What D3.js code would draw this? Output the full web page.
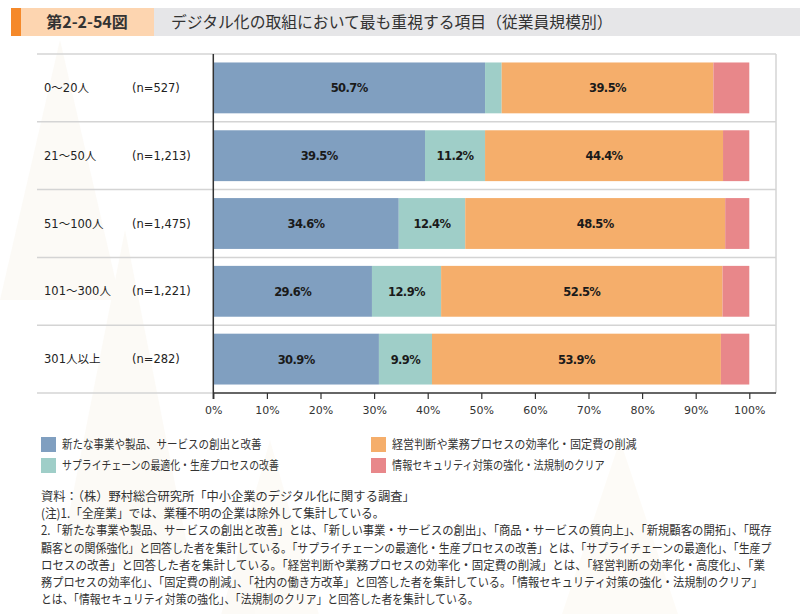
<!DOCTYPE html>
<html><head><meta charset="utf-8">
<script src="https://cdn.jsdelivr.net/npm/d3@7"></script>
<style>
html,body{margin:0;padding:0;background:#fff;}
text{font-family:"DejaVu Sans","Noto Sans CJK JP",sans-serif;}
.jp{font-family:"Noto Sans CJK JP","Noto Sans",sans-serif;}
</style></head>
<body><div id="chart"></div>
<script>
const categories = ["0～20人","21～50人","51～100人","101～300人","301人以上"];
const sampleSizes = ["(n=527)","(n=1,213)","(n=1,475)","(n=1,221)","(n=282)"];
const seriesNames = ["新たな事業や製品、サービスの創出と改善","サプライチェーンの最適化・生産プロセスの改善","経営判断や業務プロセスの効率化・固定費の削減","情報セキュリティ対策の強化・法規制のクリア"];
const newBusiness   = [50.7, 39.5, 34.6, 29.6, 30.9];
const supplyChain   = [3.1, 11.2, 12.4, 12.9, 9.9];
const efficiency    = [39.5, 44.4, 48.5, 52.5, 53.9];
const security      = [6.7, 4.9, 4.5, 5.0, 5.3];
const labelShown    = [[true,false,true,false],[true,true,true,false],[true,true,true,false],[true,true,true,false],[true,true,true,false]];
const xTicks = [0,10,20,30,40,50,60,70,80,90,100];
const colors = ["#809fc0","#9fcec8","#f5ae6b","#e8878a"];
const titleNo = "第2-2-54図";
const titleText = "デジタル化の取組において最も重視する項目（従業員規模別）";
const notes = [
 "資料：（株）野村総合研究所「中小企業のデジタル化に関する調査」",
 "(注)1.「全産業」では、業種不明の企業は除外して集計している。",
 "2.「新たな事業や製品、サービスの創出と改善」とは、「新しい事業・サービスの創出」、「商品・サービスの質向上」、「新規顧客の開拓」、「既存",
 "顧客との関係強化」と回答した者を集計している。「サプライチェーンの最適化・生産プロセスの改善」とは、「サプライチェーンの最適化」、「生産プ",
 "ロセスの改善」と回答した者を集計している。「経営判断や業務プロセスの効率化・固定費の削減」とは、「経営判断の効率化・高度化」、「業",
 "務プロセスの効率化」、「固定費の削減」、「社内の働き方改革」と回答した者を集計している。「情報セキュリティ対策の強化・法規制のクリア」",
 "とは、「情報セキュリティ対策の強化」、「法規制のクリア」と回答した者を集計している。"
];
const noteWidths = [374, 344, 731, 731, 725, 723, 438];
const legendWidths = [200, 217, 245, 213];

const W = 800, H = 614;
const svg = d3.select("#chart").append("svg").attr("width", W).attr("height", H);
svg.append("rect").attr("width", W).attr("height", H).attr("fill", "#fff");

// very faint background triangles
const tri = svg.append("g").attr("fill", "#fcf9f3").attr("opacity", 0.7);
[[0,40,120,260],[60,230,130,330],[200,440,140,250],[560,440,120,180]].forEach(([x,y,w,h]) => {
  tri.append("path").attr("d", `M${x},${y + h}L${x + w / 2},${y}L${x + w},${y + h}Z`);
});

// helper: fit text horizontally to a width by scaling
function fitText(sel, x0, y0, width) {
  const natural = sel.node().getComputedTextLength();
  const sx = width / natural;
  sel.attr("x", 0).attr("y", 0).attr("transform", `translate(${x0},${y0}) scale(${sx},1)`);
}

// title bar
svg.append("rect").attr("x", 154).attr("y", 8).attr("width", 646).attr("height", 28).attr("fill", "#e6e6e8");
svg.append("rect").attr("x", 21).attr("y", 8).attr("width", 133).attr("height", 28).attr("fill", "#fdd5b0");
svg.append("rect").attr("x", 11).attr("y", 8).attr("width", 10).attr("height", 28).attr("fill", "#f5892a");
svg.append("text").attr("class", "jp").attr("x", 87).attr("y", 28).attr("text-anchor", "middle")
  .attr("font-size", 16).attr("font-weight", 700).attr("fill", "#333").text(titleNo);
const tt = svg.append("text").attr("class", "jp").attr("font-size", 16).attr("fill", "#333").text(titleText);
fitText(tt, 171, 28, 442);

// scales
const x = d3.scaleLinear().domain([0, 100]).range([213.3, 749.3]);
const y = d3.scaleBand().domain(categories).range([54, 393]).paddingInner(0.25).paddingOuter(0.125);
const step = y.step();

// frame / separators
const grid = svg.append("g").attr("stroke", "#d4d4d4").attr("stroke-width", 1.5);
categories.forEach((c) => {
  const top = y(c) - y.paddingOuter() * step;
  grid.append("line").attr("x1", 37).attr("x2", 776).attr("y1", top).attr("y2", top);
});
grid.append("line").attr("x1", 37).attr("x2", 213).attr("y1", 393).attr("y2", 393);
grid.append("line").attr("x1", 776).attr("x2", 776).attr("y1", 54).attr("y2", 393);

// stacked data
const table = categories.map((c, i) => ({cat: c, v: [newBusiness[i], supplyChain[i], efficiency[i], security[i]]}));
const keys = [0, 1, 2, 3];
const stack = d3.stack().keys(keys).value((d, k) => d.v[k]);
const layers = stack(table);

const barG = svg.append("g");
layers.forEach((layer, k) => {
  barG.selectAll(null).data(layer).enter().append("rect")
    .attr("x", d => x(d[0]))
    .attr("y", d => y(d.data.cat))
    .attr("width", d => x(Math.min(d[1], 100)) - x(d[0]))
    .attr("height", y.bandwidth())
    .attr("fill", colors[k]);
});
layers.forEach((layer, k) => {
  barG.selectAll(null).data(layer.filter((d, i) => labelShown[i][k])).enter().append("text")
    .attr("x", d => (x(d[0]) + x(d[1])) / 2)
    .attr("y", d => y(d.data.cat) + y.bandwidth() / 2 + 4.5)
    .attr("text-anchor", "middle")
    .attr("font-size", 11.5).attr("font-weight", "bold").attr("letter-spacing", "-0.6px")
    .attr("fill", "#1a1a1a")
    .text(d => d.data.v[k].toFixed(1) + "%");
});

// category labels
categories.forEach((c, i) => {
  const cy = y(c) + y.bandwidth() / 2 + 4;
  svg.append("text").attr("x", 44).attr("y", cy).attr("font-size", 11.5).attr("fill", "#222").text(c);
  svg.append("text").attr("x", 132).attr("y", cy).attr("font-size", 11.5).attr("fill", "#222").text(sampleSizes[i]);
});

// axes
const axis = d3.axisBottom(x).tickValues(xTicks).tickFormat(d => d + "%").tickSize(6).tickSizeOuter(0);
const ax = svg.append("g").attr("transform", "translate(0,393)").call(axis);
ax.select(".domain").remove();
ax.selectAll(".tick line").attr("stroke", "#333").attr("stroke-width", 1.2);
ax.selectAll(".tick text").attr("font-size", 11).attr("fill", "#333").attr("dy", "1.1em")
  .attr("font-family", "DejaVu Sans");
svg.append("line").attr("x1", x(0)).attr("x2", 776).attr("y1", 393).attr("y2", 393).attr("stroke", "#333").attr("stroke-width", 1.5);
svg.append("line").attr("x1", x(0)).attr("x2", x(0)).attr("y1", 54).attr("y2", 399).attr("stroke", "#333").attr("stroke-width", 1.5);

// legend
const legPos = [[41, 437], [41, 458], [371, 437], [371, 458]];
seriesNames.forEach((s, k) => {
  const [lx, ly] = legPos[k];
  svg.append("rect").attr("x", lx).attr("y", ly).attr("width", 15).attr("height", 15).attr("fill", colors[k]);
  const t = svg.append("text").attr("class", "jp").attr("font-size", 12).attr("fill", "#333").text(s);
  fitText(t, lx + 21, ly + 12, legendWidths[k]);
});

// notes
notes.forEach((s, i) => {
  const t = svg.append("text").attr("class", "jp").attr("font-size", 12.5).attr("fill", "#333").text(s);
  fitText(t, 41, 501 + i * 17.2, noteWidths[i]);
});
</script></body></html>
